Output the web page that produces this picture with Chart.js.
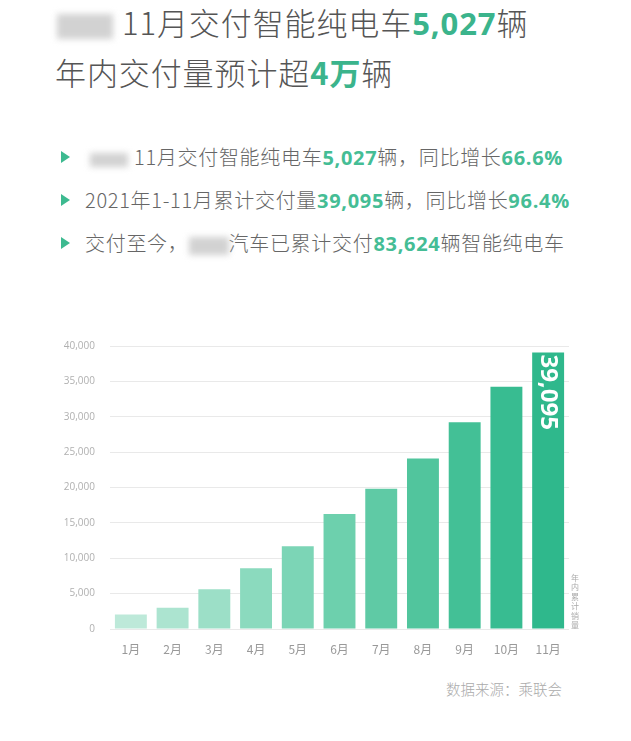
<!DOCTYPE html>
<html>
<head>
  <meta charset="utf-8">
  <title>11月交付智能纯电车</title>
  <script src="https://cdn.jsdelivr.net/npm/chart.js"></script>
  <style>
    body { margin: 0; background: #fff; font-family: "Noto Sans CJK SC", "Noto Sans", sans-serif; color: #555; }
    .page { position: relative; width: 631px; height: 741px; overflow: hidden; }
    .title { position: absolute; left: 55px; font-size: 31px; line-height: 40px; color: #555; font-weight: 300; letter-spacing: 0.9px; white-space: nowrap; }
    .title b { color: #3bb48c; font-weight: 700; }
    .title b.num, .item b { font-family: "Open Sans", "Noto Sans", sans-serif; }
    .item b { color: #45bd95; font-weight: 700; }
    .item { position: absolute; left: 61px; font-size: 20px; line-height: 26px; color: #666; font-weight: 300; letter-spacing: 0.7px; white-space: nowrap; }
    .item .tri { display: inline-block; width: 0; height: 0; border-left: 9px solid #3dba90; border-top: 6px solid transparent; border-bottom: 6px solid transparent; margin-right: 15px; vertical-align: 2px; }
    .blur { display: inline-block; background: #d2d2d2; filter: blur(3px); vertical-align: middle; }
    .source { position: absolute; left: 446px; top: 678px; font-size: 14.5px; color: #aaa; font-weight: 300; }
    #wrap { position: absolute; left: 0; top: 325px; width: 631px; height: 340px; }
  </style>
</head>
<body>
<div class="page">
  <div class="title" style="top:2px"><span class="blur" style="width:56px;height:25px;margin-right:9px;margin-left:2px"></span>11月交付智能纯电车<b class="num">5,027</b>辆</div>
  <div class="title" style="top:52px">年内交付量预计超<b>4万</b>辆</div>

  <div class="item" style="top:144px"><span class="tri"></span><span class="blur" style="width:38px;height:14px;margin-left:5px;margin-right:6px"></span>11月交付智能纯电车<b>5,027</b>辆，同比增长<b>66.6%</b></div>
  <div class="item" style="top:187px"><span class="tri"></span>2021年1-11月累计交付量<b>39,095</b>辆，同比增长<b>96.4%</b></div>
  <div class="item" style="top:230px"><span class="tri"></span>交付至今，<span class="blur" style="width:40px;height:18px"></span>汽车已累计交付<b>83,624</b>辆智能纯电车</div>

  <div id="wrap"><canvas id="salesChart"></canvas></div>
  <div class="source">数据来源：乘联会</div>
</div>
<script>
  const months = ['1月', '2月', '3月', '4月', '5月', '6月', '7月', '8月', '9月', '10月', '11月'];
  const cumulative = [2050, 3010, 5620, 8580, 11690, 16250, 19810, 24110, 29220, 34250, 39095];
  const yTicks = [0, 5000, 10000, 15000, 20000, 25000, 30000, 35000, 40000];
  const barColors = ['#bde9d9', '#ace4d0', '#9cdfc7', '#8bdabe', '#7cd5b6', '#6dd0ad', '#5fcaa5', '#51c59d', '#43c096', '#38bc91', '#2fb88c'];
  const sideLabel = '年内累计销量';

  const barText = {
    id: 'barText',
    afterDatasetsDraw(chart) {
      const ctx = chart.ctx;
      const bars = chart.getDatasetMeta(0).data;
      const last = bars[bars.length - 1];
      const val = cumulative[cumulative.length - 1];

      // rotated total inside the last bar
      ctx.save();
      ctx.translate(last.x, last.y + 2);
      ctx.rotate(Math.PI / 2);
      ctx.fillStyle = '#fff';
      ctx.font = 'bold 24px "Open Sans", sans-serif';
      ctx.textAlign = 'left';
      ctx.textBaseline = 'middle';
      ctx.fillText(val.toLocaleString('en-US'), 0, 0);
      ctx.restore();

      // small stacked caption next to the last bar
      ctx.save();
      ctx.fillStyle = '#aaa';
      ctx.font = '8px "Noto Sans CJK SC", sans-serif';
      ctx.textAlign = 'center';
      ctx.textBaseline = 'bottom';
      const x = last.x + last.width / 2 + 11;
      let y = chart.scales.y.getPixelForValue(0);
      for (let i = sideLabel.length - 1; i >= 0; i--) {
        ctx.fillText(sideLabel[i], x, y);
        y -= 9.5;
      }
      ctx.restore();
    }
  };

  new Chart(document.getElementById('salesChart'), {
    type: 'bar',
    data: {
      labels: months,
      datasets: [{ data: cumulative, backgroundColor: barColors, barPercentage: 0.9, categoryPercentage: 0.85 }]
    },
    options: {
      responsive: true,
      maintainAspectRatio: false,
      animation: false,
      layout: { padding: { left: 0, right: 62, top: 12, bottom: 0 } },
      plugins: { legend: { display: false }, tooltip: { enabled: false } },
      scales: {
        x: {
          grid: { display: false, drawTicks: false },
          border: { display: false },
          ticks: { color: '#999', font: { size: 12, family: '"Noto Sans CJK SC", sans-serif' }, padding: 13 },
          afterFit(scale) { scale.height = 36; }
        },
        y: {
          min: 0, max: 40000,
          afterBuildTicks(scale) { scale.ticks = yTicks.map(v => ({ value: v })); },
          grid: { color: '#e9e9e9', drawTicks: false },
          border: { display: false },
          ticks: {
            color: '#b0b0b0',
            font: { size: 10, family: '"Open Sans", sans-serif' },
            padding: 15,
            callback: v => v.toLocaleString('en-US')
          },
          afterFit(scale) { scale.width = 110; }
        }
      }
    },
    plugins: [barText]
  });
</script>
</body>
</html>
